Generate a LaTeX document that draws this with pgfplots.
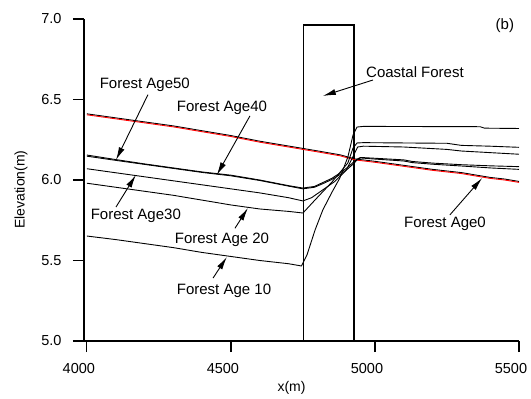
\documentclass[border=0pt]{standalone}
\usepackage{pgfplots}
\pgfplotsset{compat=1.18}
\usepackage{fontspec}
\setmainfont{Liberation Sans}
\usetikzlibrary{arrows.meta}
\begin{document}
\begin{tikzpicture}
\useasboundingbox (-84pt,-58pt) rectangle (447pt,341pt);
\begin{axis}[
  at={(0,0)}, anchor=south west,
  scale only axis, width=435pt, height=322pt,
  xmin=3990, xmax=5500, ymin=5, ymax=7,
  axis x line*=bottom, axis y line*=left,
  axis line style={line width=1.2pt},
  xtick={4000,4500,5000,5500}, ytick={5,5.5,6,6.5,7},
  minor tick num=0,
  tick align=outside,
  major tick length=11pt,
  every tick/.style={draw=black, line width=1.2pt},
  /pgf/number format/assume math mode=true,
  ticklabel style={font=\fontsize{14.5}{17}\selectfont},
  xticklabel style={/pgf/number format/1000 sep={}, xshift=-8pt, yshift=-8pt},
  yticklabel style={/pgf/number format/fixed,/pgf/number format/fixed zerofill,/pgf/number format/precision=1, xshift=-8pt},
  xlabel={x(m)}, ylabel={Elevation(m)},
  label style={font=\fontsize{14}{17}\selectfont},
  xlabel style={at={(axis description cs:0.477,0)}, anchor=center, yshift=-47pt},
  ylabel style={at={(axis description cs:0,0.47)}, anchor=center, yshift=63pt},
  every axis plot/.append style={line width=0.9pt, no markers},
  clip=false,
]
% coastal forest rectangle
\addplot[black, line width=1.2pt] coordinates {(4751,5) (4751,6.963) (4927,6.963) (4927,5)};
% Age0 black
\addplot[black] coordinates {(4000,6.411) (4100,6.386) (4200,6.361) (4300,6.336) (4400,6.306) (4500,6.276) (4600,6.241) (4700,6.211) (4750,6.196) (4800,6.181) (4880,6.156) (4900,6.146) (4930,6.131) (5000,6.116) (5100,6.091) (5200,6.066) (5300,6.046) (5400,6.016) (5450,6.006) (5500,5.991)};
% initial red
\addplot[red] coordinates {(4000,6.405) (4100,6.38) (4200,6.355) (4300,6.33) (4400,6.30) (4500,6.27) (4600,6.235) (4700,6.205) (4750,6.19) (4800,6.175) (4880,6.15) (4900,6.14) (4930,6.125) (5000,6.11) (5100,6.085) (5200,6.06) (5300,6.04) (5400,6.01) (5450,6.00) (5500,5.985)};
% Age50
\addplot[black] coordinates {(4000,6.155) (4100,6.127) (4200,6.10) (4300,6.075) (4400,6.05) (4500,6.03) (4600,6.00) (4700,5.965) (4750,5.95) (4790,5.96) (4820,5.985) (4850,6.01) (4880,6.045) (4906,6.08) (4925,6.11) (4938,6.13) (4950,6.14) (5000,6.135) (5100,6.125) (5130,6.115) (5200,6.105) (5300,6.095) (5400,6.088) (5500,6.083)};
% Age40
\addplot[black] coordinates {(4000,6.148) (4100,6.122) (4200,6.097) (4300,6.072) (4400,6.047) (4500,6.026) (4600,5.997) (4700,5.962) (4750,5.945) (4790,5.955) (4820,5.978) (4850,6.003) (4880,6.035) (4906,6.07) (4925,6.10) (4938,6.125) (4950,6.137) (5000,6.13) (5100,6.118) (5130,6.108) (5200,6.098) (5300,6.087) (5400,6.075) (5500,6.066)};
% Age30
\addplot[black] coordinates {(4000,6.07) (4100,6.045) (4200,6.02) (4300,5.995) (4400,5.97) (4500,5.945) (4600,5.92) (4700,5.89) (4750,5.87) (4780,5.89) (4820,5.94) (4860,5.99) (4900,6.06) (4925,6.15) (4940,6.205) (4960,6.21) (5100,6.205) (5250,6.19) (5300,6.18) (5400,6.17) (5500,6.16)};
% Age20
\addplot[black] coordinates {(4000,5.98) (4100,5.955) (4200,5.93) (4300,5.905) (4400,5.875) (4500,5.845) (4600,5.82) (4700,5.805) (4750,5.795) (4792,5.876) (4851,5.988) (4906,6.106) (4924,6.199) (4938,6.23) (4960,6.232) (5250,6.228) (5300,6.215) (5400,6.21) (5500,6.203)};
% Age10
\addplot[black] coordinates {(4000,5.652) (4100,5.63) (4200,5.605) (4300,5.58) (4400,5.55) (4500,5.525) (4600,5.50) (4700,5.48) (4745,5.466) (4764,5.534) (4792,5.689) (4819,5.814) (4851,5.925) (4878,6.012) (4906,6.143) (4924,6.28) (4938,6.329) (4960,6.333) (5365,6.331) (5380,6.322) (5500,6.32)};
% annotations
\begin{scope}[every node/.style={font=\fontsize{15}{18}\selectfont, inner sep=0pt}]
\node at (axis cs:4201,6.59) {Forest Age50};
\node at (axis cs:4469,6.447) {Forest Age40};
\node at (axis cs:4170,5.776) {Forest Age30};
\node at (axis cs:4469,5.627) {Forest Age 20};
\node at (axis cs:4476,5.31) {Forest Age 10};
\node at (axis cs:5243,5.727) {Forest Age0};
\node at (axis cs:5139,6.67) {Coastal Forest};
\node at (axis cs:5451,6.96) {(b)};
\end{scope}
\begin{scope}[line width=0.9pt, -{Latex[length=13pt,width=6pt]}]
\draw (axis cs:4212,6.53) -- (axis cs:4101,6.124);
\draw (axis cs:4566,6.398) -- (axis cs:4451,6.031);
\draw (axis cs:4101,5.832) -- (axis cs:4170,6.031);
\draw (axis cs:4514,5.70) -- (axis cs:4559,5.826);
\draw (axis cs:4438,5.391) -- (axis cs:4486,5.522);
\draw (axis cs:5260,5.783) -- (axis cs:5372,6.012);
\draw (axis cs:4993,6.621) -- (axis cs:4819,6.522);
\end{scope}
\end{axis}
\end{tikzpicture}
\end{document}
